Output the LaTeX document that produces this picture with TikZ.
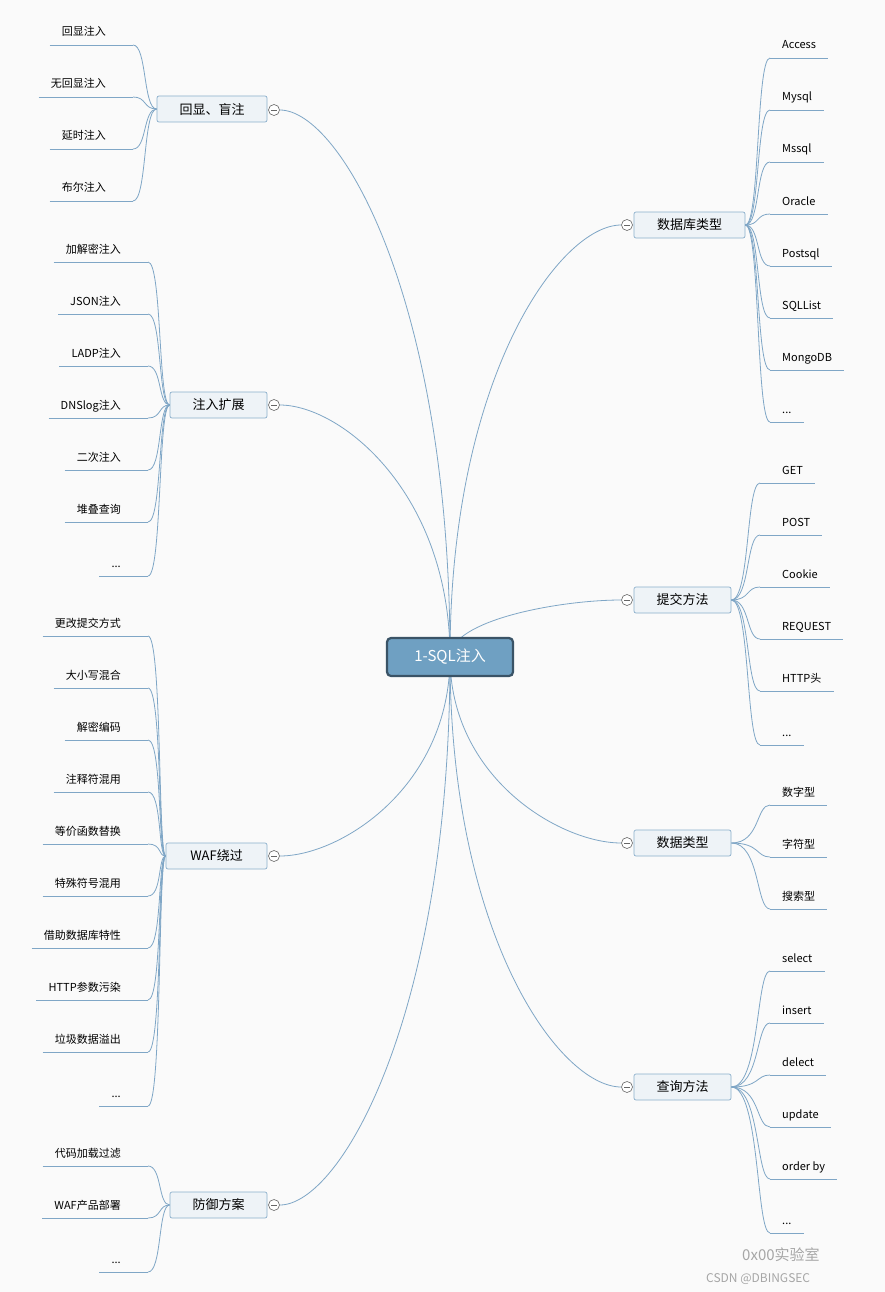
\documentclass[tikz,border=0pt]{standalone}
\usepackage{fontspec}
\setmainfont{Noto Sans CJK SC}
\newcommand\mydots{...}
\begin{document}
\begin{tikzpicture}[x=1pt,y=-1pt,
  ln/.style={draw=lnc,line width=0.8pt},
  mainbox/.style={draw=boxb,fill=boxf,rounded corners=2pt,line width=0.7pt,minimum height=26pt,font=\fontsize{13}{15}\selectfont,inner sep=0pt},
  leaf/.style={font=\fontsize{11}{13}\selectfont,inner sep=0pt,anchor=base west},
  tog/.style={circle,draw=gray!80!black,fill=white,minimum size=11pt,inner sep=0pt,line width=0.6pt,path picture={\draw[gray!80!black] ([xshift=-3pt]path picture bounding box.center)--([xshift=3pt]path picture bounding box.center);}}]
\definecolor{lnc}{HTML}{7FA6C6}
\definecolor{boxb}{HTML}{8AAFCB}
\definecolor{boxf}{HTML}{EEF3F7}
\definecolor{cenf}{HTML}{6FA0C2}
\definecolor{cenb}{HTML}{3A5366}
\fill[fill={rgb,255:red,250;green,250;blue,250}] (0,0) rectangle (885,1292);
\useasboundingbox (0,0) rectangle (885,1292);
\coordinate (cc) at (450,657);
% main nodes
\node[mainbox,minimum width=110pt] (m1) at (212,109) {回显、盲注};
\node[mainbox,minimum width=97pt] (m2) at (218.5,405) {注入扩展};
\node[mainbox,minimum width=101pt] (m3) at (216.5,856) {WAF绕过};
\node[mainbox,minimum width=97pt] (m4) at (218.5,1205) {防御方案};
\node[mainbox,minimum width=111pt] (r1) at (689.5,225) {数据库类型};
\node[mainbox,minimum width=97pt] (r2) at (682.5,600) {提交方法};
\node[mainbox,minimum width=97pt] (r3) at (682.5,843) {数据类型};
\node[mainbox,minimum width=97pt] (r4) at (682.5,1087) {查询方法};
% center connectors
\foreach \m/\tx/\ty in {m1/281/110,m2/281/405,m3/281/856,m4/281/1205}{
  \node[tog] (t\m) at (\tx-7,\ty) {};
  \draw[ln] (cc) .. controls (450,{\ty+(657-\ty)*0.35}) and ({\tx+60},\ty) .. (t\m.east);
}
\foreach \m/\tx/\ty in {r1/620/225,r2/620/600,r3/620/843,r4/620/1087}{
  \node[tog] (t\m) at (\tx+7,\ty) {};
  \draw[ln] (cc) .. controls (450,{\ty+(657-\ty)*0.35}) and ({\tx-60},\ty) .. (t\m.west);
}
% center node on top
\node[draw=cenb,fill=cenf,line width=2.2pt,rounded corners=4pt,minimum width=126pt,minimum height=38pt,text=white,font=\fontsize{15}{17}\selectfont] (c) at (450,657) {1-SQL注入};
% left leaves
\foreach \p/\py/\rx/\list in {
 m1/109/133/{31/回显注入,83/无回显注入,135/延时注入,187/布尔注入},
 m2/405/148/{248/加解密注入,300/JSON注入,352/LADP注入,404/DNSlog注入,456/二次注入,508/堆叠查询,562/\mydots},
 m3/856/148/{622/更改提交方式,674/大小写混合,726/解密编码,778/注释符混用,830/等价函数替换,882/特殊符号混用,934/借助数据库特性,986/HTTP参数污染,1038/垃圾数据溢出,1092/\mydots},
 m4/1205/148/{1152/代码加载过滤,1204/WAF产品部署,1258/\mydots}}{
  \foreach \y/\t [count=\i] in \list {
    \node[leaf,anchor=base east] (\p l\i) at (\rx-27,\y+5) {\t};
    \coordinate (\p e\i) at (\rx,\y+14);
    \draw[ln] ([xshift=-12pt]\p l\i.west |- \p e\i) -- (\p e\i);
    \draw[ln] (\p e\i) .. controls (\rx+14,\y+14) and (\rx+10,\py) .. (\p.west);
  }
}
% right leaves
\foreach \p/\py/\lx/\list in {
 r1/225/770/{44/Access,96/Mysql,148/Mssql,200/Oracle,252/Postsql,304/SQLList,356/MongoDB,408/\mydots},
 r2/600/760/{469/GET,521/POST,573/Cookie,625/REQUEST,677/HTTP头,731/\mydots},
 r3/843/770/{791/数字型,843/字符型,895/搜索型},
 r4/1087/770/{957/select,1009/insert,1061/delect,1113/update,1165/order by,1219/\mydots}}{
  \foreach \y/\t [count=\i] in \list {
    \node[leaf] (\p l\i) at (782,\y+5) {\t};
    \coordinate (\p e\i) at (\lx,\y+14);
    \draw[ln] (\p e\i) -- ([xshift=12pt]\p l\i.east |- \p e\i);
    \draw[ln] (\p e\i) .. controls (\lx-14,\y+14) and (\lx-10,\py) .. (\p.east);
  }
}
% watermark
\node[font=\fontsize{15}{17}\selectfont,text=gray!70,anchor=base west,inner sep=0pt] (w1) at (742,1260) {0x00实验室};
\node[font=\fontsize{12}{14}\selectfont,text=gray!70,anchor=base west,inner sep=0pt] (w2) at (706,1282) {CSDN @DBINGSEC};
\end{tikzpicture}
\end{document}
